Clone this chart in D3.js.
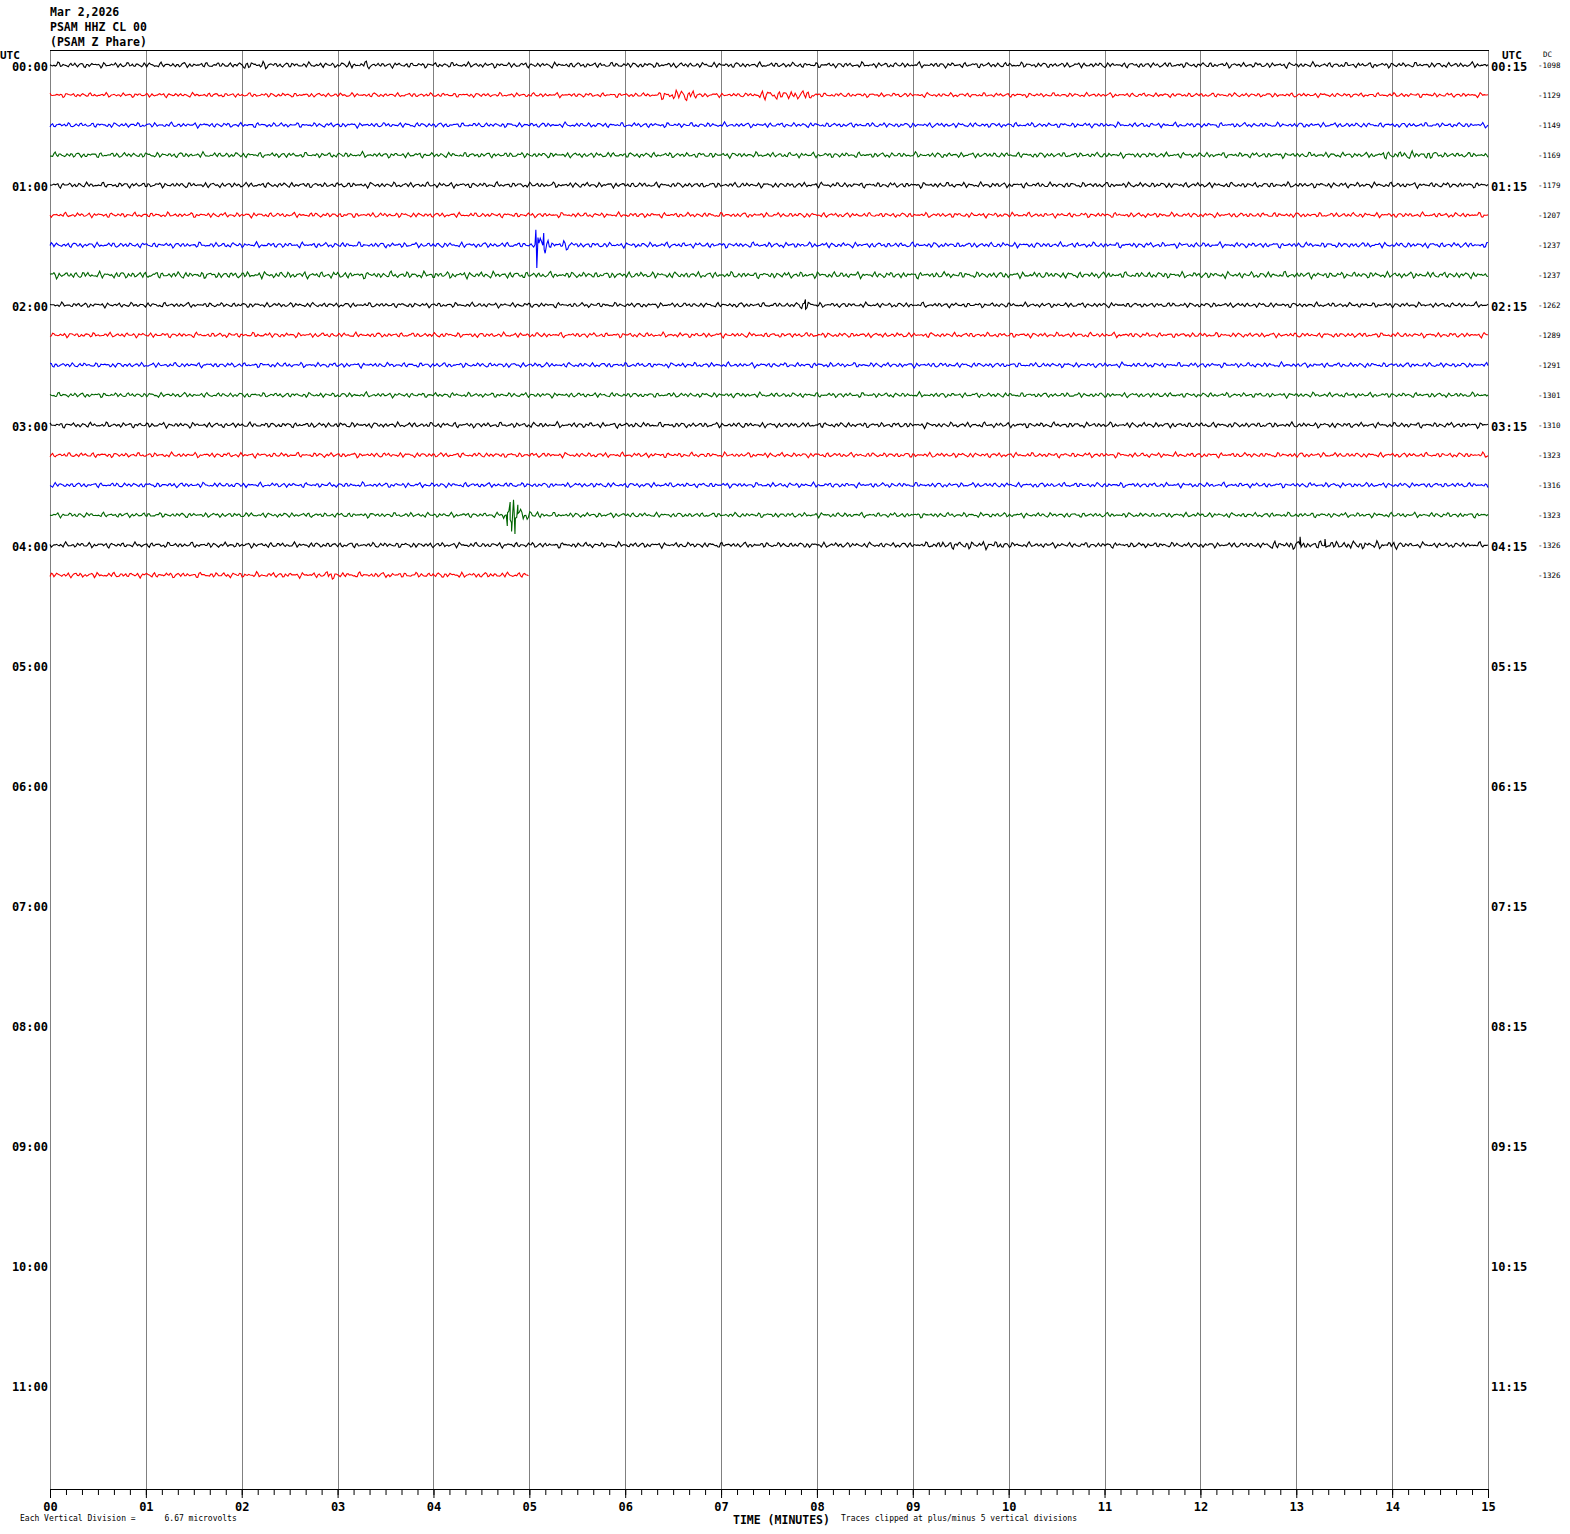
<!DOCTYPE html>
<html><head><meta charset="utf-8">
<script src="https://cdn.jsdelivr.net/npm/d3@7"></script>
<style>body{margin:0;background:#fff}svg{display:block}</style>
</head><body>
<svg id="chart" width="1570" height="1534"></svg>
<script>
// ---------- data ----------
const headerLines = ["Mar 2,2026", "PSAM HHZ CL 00", "(PSAM Z Phare)"];
const minuteTicks = d3.range(0, 16);                 // 00 .. 15
const hourLabelsLeft = ["00:00","01:00","02:00","03:00","04:00","05:00","06:00","07:00","08:00","09:00","10:00","11:00"];
const hourLabelsRight = ["00:15","01:15","02:15","03:15","04:15","05:15","06:15","07:15","08:15","09:15","10:15","11:15"];
const rowCount = 48;
const traceColors = ["#000000", "#ff0000", "#0000ff", "#006400"];
const dcValues = [-1098,-1129,-1149,-1169,-1179,-1207,-1237,-1237,-1262,-1289,-1291,-1301,-1310,-1323,-1316,-1323,-1326,-1326];
const rowEndMinute = [15,15,15,15,15,15,15,15,15,15,15,15,15,15,15,15,15,5.0];
// background noise level of each trace, in vertical divisions
const baseAmp = [0.55,0.45,0.5,0.55,0.55,0.5,0.55,0.65,0.5,0.5,0.5,0.5,0.55,0.5,0.5,0.5,0.55,0.55];
// stretches with stronger shaking: [row, start minute, end minute, level in divisions]
const bursts = [
  [0, 2.0, 2.3, 0.8], [0, 3.1, 3.35, 0.8],
  [1, 6.38, 6.75, 1.2], [1, 7.35, 8.0, 1.0],
  [3, 13.9, 14.5, 0.85],
  [6, 5.06, 5.2, 1.5], [6, 5.2, 5.45, 1.0],
  [7, 0.0, 5.0, 0.7],
  [8, 7.82, 7.94, 1.1],
  [15, 4.72, 4.95, 1.8], [15, 4.95, 5.12, 0.9],
  [16, 9.2, 10.0, 0.85], [16, 12.7, 14.1, 0.85],
  [17, 2.88, 2.96, 1.1]
];
// single large swings: [row, minute, value in divisions]
const spikes = [
  [6, 5.068, 3.3], [6, 5.078, -5.0], [6, 5.09, 1.6], [6, 5.15, 2.6], [6, 5.165, -1.8],
  [15, 4.77, -2.4], [15, 4.80, 2.8], [15, 4.815, -3.6], [15, 4.835, 3.3], [15, 4.85, -4.1], [15, 4.88, 2.2],
  [16, 13.04, 1.8], [16, 13.3, 1.3], [8, 7.88, 1.2]
];
const clipDivisions = 5;

// ---------- drawing ----------
const svg = d3.select("#chart");
const L = 50, R = 1488, T = 50, B = 1489;
const x = d3.scaleLinear().domain([0, 15]).range([L, R]);
const yRow = d3.scaleLinear().domain([0, 1]).range([65, 95]);
const div = d3.scaleLinear().domain([-clipDivisions, clipDivisions]).range([23, -23]);
const mono = "'DejaVu Sans Mono', 'Liberation Mono', monospace";

// header
svg.append("g").selectAll("text").data(headerLines).join("text")
  .attr("x", 50).attr("y", (d, i) => 16 + i * 15)
  .attr("font-family", mono).attr("font-size", 11.5).attr("font-weight", "bold")
  .text(d => d);

// grid lines
svg.append("g").selectAll("line").data(minuteTicks).join("line")
  .attr("x1", d => Math.round(x(d)) + 0.5).attr("x2", d => Math.round(x(d)) + 0.5)
  .attr("y1", T).attr("y2", B)
  .attr("stroke", "#808080").attr("stroke-width", 1);
svg.append("line").attr("x1", L).attr("x2", R + 1).attr("y1", T + 0.5).attr("y2", T + 0.5)
  .attr("stroke", "#000").attr("stroke-width", 1);

// traces (noise texture scaled by the level read for each stretch)
function levelAt(r, t) {
  let a = baseAmp[r];
  for (const b of bursts) if (b[0] === r && t >= b[1] && t <= b[2]) a = Math.max(a, b[3]);
  return a;
}
const periods = [4.1, 5.7, 7.9, 11.3, 17.9];
const weights = [0.35, 0.45, 0.3, 0.25, 0.2];
const lineGen = d3.line().x(d => x(d[0])).y(d => d[1]);
dcValues.forEach((dc, r) => {
  const y0 = yRow(r);
  const end = rowEndMinute[r];
  const step = 15 / 1100;
  const pts = [];
  const ph = r * 1.7;
  for (let t = 0; t <= end + 1e-9; t += step) {
    const p = x(t);
    let wave = 0;
    periods.forEach((P, k) => { wave += weights[k] * Math.sin(p * 2 * Math.PI / P + ph * (k + 1)); });
    pts.push([t, levelAt(r, t) * wave / 1.05]);
  }
  spikes.filter(s => s[0] === r).forEach(s => pts.push([s[1], s[2]]));
  pts.sort((a, b) => a[0] - b[0]);
  const data = pts.map(p => [p[0], y0 + div(Math.max(-clipDivisions, Math.min(clipDivisions, p[1])))]);
  svg.append("path").datum(data).attr("d", lineGen)
    .attr("fill", "none").attr("stroke", traceColors[r % 4]).attr("stroke-width", 1.1)
    .attr("stroke-linejoin", "miter");
  svg.append("text").attr("x", 1538).attr("y", y0 + 3)
    .attr("font-family", mono).attr("font-size", 7.5).text(dc);
});

// left/right time labels
svg.append("text").attr("x", 0).attr("y", 59).attr("font-family", mono).attr("font-size", 11).attr("font-weight", "bold").text("UTC");
svg.append("text").attr("x", 1502).attr("y", 59).attr("font-family", mono).attr("font-size", 11).attr("font-weight", "bold").text("UTC");
svg.append("text").attr("x", 1543).attr("y", 57).attr("font-family", mono).attr("font-size", 7.5).text("DC");
svg.append("g").selectAll("text").data(hourLabelsLeft).join("text")
  .attr("x", 48).attr("y", (d, i) => yRow(i * 4) + 5.5).attr("text-anchor", "end")
  .attr("font-family", mono).attr("font-size", 12).attr("font-weight", "bold").text(d => d);
svg.append("g").selectAll("text").data(hourLabelsRight).join("text")
  .attr("x", 1491).attr("y", (d, i) => yRow(i * 4) + 5.5)
  .attr("font-family", mono).attr("font-size", 12).attr("font-weight", "bold").text(d => d);

// bottom axis
const axisMinor = d3.axisBottom(x).tickValues(d3.range(0, 15 * 6 + 1).map(d => d / 6)).tickSize(6).tickFormat("");
const gMinor = svg.append("g").attr("transform", `translate(0,${B})`).call(axisMinor);
gMinor.select(".domain").attr("stroke", "#000");
const axisMajor = d3.axisBottom(x).tickValues(minuteTicks).tickSize(9).tickPadding(4)
  .tickFormat(d => String(d).padStart(2, "0"));
const gMajor = svg.append("g").attr("transform", `translate(0,${B})`).call(axisMajor);
gMajor.select(".domain").remove();
gMajor.selectAll("text").attr("font-family", mono).attr("font-size", 12).attr("font-weight", "bold").attr("fill", "#000");
svg.selectAll(".tick line").attr("stroke", "#000");

// footer
svg.append("text").attr("x", 20).attr("y", 1521).attr("font-family", mono).attr("font-size", 8)
  .style("white-space", "pre").text("Each Vertical Division =      6.67 microvolts");
svg.append("text").attr("x", 733).attr("y", 1524).attr("font-family", mono).attr("font-size", 11.5).attr("font-weight", "bold").text("TIME (MINUTES)");
svg.append("text").attr("x", 841).attr("y", 1521).attr("font-family", mono).attr("font-size", 8).text("Traces clipped at plus/minus 5 vertical divisions");
</script>
</body></html>
